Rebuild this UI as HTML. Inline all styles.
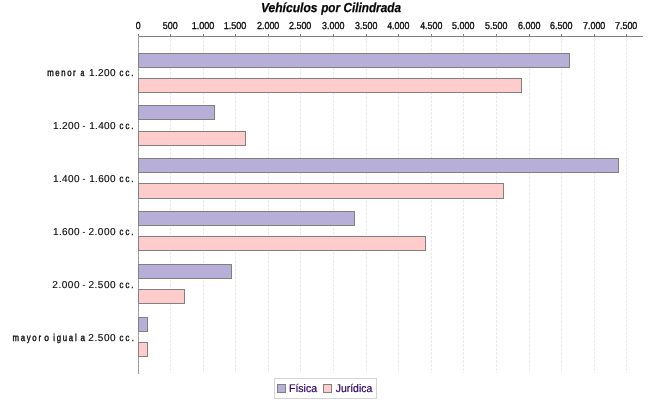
<!DOCTYPE html>
<html><head><meta charset="utf-8"><style>
html,body{margin:0;padding:0;background:#fff;width:650px;height:400px;overflow:hidden}
svg{display:block;font-family:"Liberation Sans",sans-serif}
text{text-rendering:geometricPrecision}
svg{will-change:transform}
</style></head><body>
<svg width="650" height="400" viewBox="0 0 650 400">
<rect x="0" y="0" width="650" height="400" fill="#fff"/>
<line x1="170.5" y1="36.5" x2="170.5" y2="373" stroke="#E2E2E2" stroke-width="1" stroke-dasharray="2,2"/>
<line x1="203.5" y1="36.5" x2="203.5" y2="373" stroke="#E2E2E2" stroke-width="1" stroke-dasharray="2,2"/>
<line x1="235.5" y1="36.5" x2="235.5" y2="373" stroke="#E2E2E2" stroke-width="1" stroke-dasharray="2,2"/>
<line x1="268.5" y1="36.5" x2="268.5" y2="373" stroke="#E2E2E2" stroke-width="1" stroke-dasharray="2,2"/>
<line x1="300.5" y1="36.5" x2="300.5" y2="373" stroke="#E2E2E2" stroke-width="1" stroke-dasharray="2,2"/>
<line x1="333.5" y1="36.5" x2="333.5" y2="373" stroke="#E2E2E2" stroke-width="1" stroke-dasharray="2,2"/>
<line x1="366.5" y1="36.5" x2="366.5" y2="373" stroke="#E2E2E2" stroke-width="1" stroke-dasharray="2,2"/>
<line x1="398.5" y1="36.5" x2="398.5" y2="373" stroke="#E2E2E2" stroke-width="1" stroke-dasharray="2,2"/>
<line x1="431.5" y1="36.5" x2="431.5" y2="373" stroke="#E2E2E2" stroke-width="1" stroke-dasharray="2,2"/>
<line x1="463.5" y1="36.5" x2="463.5" y2="373" stroke="#E2E2E2" stroke-width="1" stroke-dasharray="2,2"/>
<line x1="496.5" y1="36.5" x2="496.5" y2="373" stroke="#E2E2E2" stroke-width="1" stroke-dasharray="2,2"/>
<line x1="529.5" y1="36.5" x2="529.5" y2="373" stroke="#E2E2E2" stroke-width="1" stroke-dasharray="2,2"/>
<line x1="561.5" y1="36.5" x2="561.5" y2="373" stroke="#E2E2E2" stroke-width="1" stroke-dasharray="2,2"/>
<line x1="594.5" y1="36.5" x2="594.5" y2="373" stroke="#E2E2E2" stroke-width="1" stroke-dasharray="2,2"/>
<line x1="626.5" y1="36.5" x2="626.5" y2="373" stroke="#E2E2E2" stroke-width="1" stroke-dasharray="2,2"/>
<line x1="138" y1="36.5" x2="643" y2="36.5" stroke="#808080" stroke-width="1"/>
<line x1="138.5" y1="34" x2="138.5" y2="36" stroke="#808080" stroke-width="1"/>
<line x1="170.5" y1="34" x2="170.5" y2="36" stroke="#808080" stroke-width="1"/>
<line x1="203.5" y1="34" x2="203.5" y2="36" stroke="#808080" stroke-width="1"/>
<line x1="235.5" y1="34" x2="235.5" y2="36" stroke="#808080" stroke-width="1"/>
<line x1="268.5" y1="34" x2="268.5" y2="36" stroke="#808080" stroke-width="1"/>
<line x1="300.5" y1="34" x2="300.5" y2="36" stroke="#808080" stroke-width="1"/>
<line x1="333.5" y1="34" x2="333.5" y2="36" stroke="#808080" stroke-width="1"/>
<line x1="366.5" y1="34" x2="366.5" y2="36" stroke="#808080" stroke-width="1"/>
<line x1="398.5" y1="34" x2="398.5" y2="36" stroke="#808080" stroke-width="1"/>
<line x1="431.5" y1="34" x2="431.5" y2="36" stroke="#808080" stroke-width="1"/>
<line x1="463.5" y1="34" x2="463.5" y2="36" stroke="#808080" stroke-width="1"/>
<line x1="496.5" y1="34" x2="496.5" y2="36" stroke="#808080" stroke-width="1"/>
<line x1="529.5" y1="34" x2="529.5" y2="36" stroke="#808080" stroke-width="1"/>
<line x1="561.5" y1="34" x2="561.5" y2="36" stroke="#808080" stroke-width="1"/>
<line x1="594.5" y1="34" x2="594.5" y2="36" stroke="#808080" stroke-width="1"/>
<line x1="626.5" y1="34" x2="626.5" y2="36" stroke="#808080" stroke-width="1"/>
<line x1="138.5" y1="36" x2="138.5" y2="374" stroke="#AAAAAA" stroke-width="1"/>
<line x1="138.5" y1="37" x2="138.5" y2="374" stroke="#939393" stroke-width="1" stroke-dasharray="2,2"/>
<rect x="138.5" y="53.5" width="431" height="14" fill="#B8AFD8" stroke="#808080" stroke-width="1"/>
<rect x="138.5" y="78.5" width="383" height="14" fill="#FFCCCC" stroke="#808080" stroke-width="1"/>
<rect x="138.5" y="105.5" width="76" height="14" fill="#B8AFD8" stroke="#808080" stroke-width="1"/>
<rect x="138.5" y="131.5" width="107" height="14" fill="#FFCCCC" stroke="#808080" stroke-width="1"/>
<rect x="138.5" y="158.5" width="480" height="14" fill="#B8AFD8" stroke="#808080" stroke-width="1"/>
<rect x="138.5" y="183.5" width="365" height="15" fill="#FFCCCC" stroke="#808080" stroke-width="1"/>
<rect x="138.5" y="211.5" width="216" height="14" fill="#B8AFD8" stroke="#808080" stroke-width="1"/>
<rect x="138.5" y="236.5" width="287" height="14" fill="#FFCCCC" stroke="#808080" stroke-width="1"/>
<rect x="138.5" y="264.5" width="93" height="14" fill="#B8AFD8" stroke="#808080" stroke-width="1"/>
<rect x="138.5" y="289.5" width="46" height="14" fill="#FFCCCC" stroke="#808080" stroke-width="1"/>
<rect x="138.5" y="317.5" width="9" height="14" fill="#B8AFD8" stroke="#808080" stroke-width="1"/>
<rect x="138.5" y="342.5" width="9" height="14" fill="#FFCCCC" stroke="#808080" stroke-width="1"/>
<text transform="translate(135.76,29) scale(0.8786,1)" font-size="10" stroke="#000" stroke-width="0.3">0</text>
<text transform="translate(162.74,29) scale(0.8934,1)" font-size="10" stroke="#000" stroke-width="0.3">500</text>
<text transform="translate(191.71,29) scale(0.9048,1)" font-size="10" stroke="#000" stroke-width="0.3">1.000</text>
<text transform="translate(223.71,29) scale(0.9048,1)" font-size="10" stroke="#000" stroke-width="0.3">1.500</text>
<text transform="translate(256.95,29) scale(0.8951,1)" font-size="10" stroke="#000" stroke-width="0.3">2.000</text>
<text transform="translate(288.95,29) scale(0.8951,1)" font-size="10" stroke="#000" stroke-width="0.3">2.500</text>
<text transform="translate(322.06,29) scale(0.8906,1)" font-size="10" stroke="#000" stroke-width="0.3">3.000</text>
<text transform="translate(355.06,29) scale(0.8906,1)" font-size="10" stroke="#000" stroke-width="0.3">3.500</text>
<text transform="translate(387.20,29) scale(0.8851,1)" font-size="10" stroke="#000" stroke-width="0.3">4.000</text>
<text transform="translate(420.20,29) scale(0.8851,1)" font-size="10" stroke="#000" stroke-width="0.3">4.500</text>
<text transform="translate(452.04,29) scale(0.8913,1)" font-size="10" stroke="#000" stroke-width="0.3">5.000</text>
<text transform="translate(485.04,29) scale(0.8913,1)" font-size="10" stroke="#000" stroke-width="0.3">5.500</text>
<text transform="translate(517.95,29) scale(0.8953,1)" font-size="10" stroke="#000" stroke-width="0.3">6.000</text>
<text transform="translate(549.95,29) scale(0.8953,1)" font-size="10" stroke="#000" stroke-width="0.3">6.500</text>
<text transform="translate(582.94,29) scale(0.8955,1)" font-size="10" stroke="#000" stroke-width="0.3">7.000</text>
<text transform="translate(614.94,29) scale(0.8955,1)" font-size="10" stroke="#000" stroke-width="0.3">7.500</text>
<text transform="translate(47.28,76) scale(0.7800,1)" font-size="10" letter-spacing="2.000" stroke="#000" stroke-width="0.35">menor</text>
<text transform="translate(80.61,76) scale(0.6814,1)" font-size="10" stroke="#000" stroke-width="0.35">a</text>
<text transform="translate(89.04,76) scale(1.0000,1)" font-size="10" letter-spacing="0.357" stroke="#000" stroke-width="0.12">1.200</text>
<text transform="translate(119.47,76) scale(0.7800,1)" font-size="10" letter-spacing="2.613" stroke="#000" stroke-width="0.35">cc.</text>
<text transform="translate(53.04,129) scale(1.0000,1)" font-size="10" letter-spacing="0.357" stroke="#000" stroke-width="0.12">1.200</text>
<text transform="translate(82.52,129) scale(0.8602,1)" font-size="10" stroke="#000" stroke-width="0.12">-</text>
<text transform="translate(89.24,129) scale(1.0000,1)" font-size="10" letter-spacing="0.307" stroke="#000" stroke-width="0.12">1.400</text>
<text transform="translate(119.47,129) scale(0.7800,1)" font-size="10" letter-spacing="2.613" stroke="#000" stroke-width="0.35">cc.</text>
<text transform="translate(53.04,182) scale(1.0000,1)" font-size="10" letter-spacing="0.357" stroke="#000" stroke-width="0.12">1.400</text>
<text transform="translate(82.52,182) scale(0.8602,1)" font-size="10" stroke="#000" stroke-width="0.12">-</text>
<text transform="translate(89.24,182) scale(1.0000,1)" font-size="10" letter-spacing="0.307" stroke="#000" stroke-width="0.12">1.600</text>
<text transform="translate(119.47,182) scale(0.7800,1)" font-size="10" letter-spacing="2.613" stroke="#000" stroke-width="0.35">cc.</text>
<text transform="translate(53.04,235) scale(1.0000,1)" font-size="10" letter-spacing="0.357" stroke="#000" stroke-width="0.12">1.600</text>
<text transform="translate(82.52,235) scale(0.8602,1)" font-size="10" stroke="#000" stroke-width="0.12">-</text>
<text transform="translate(88.50,235) scale(1.0000,1)" font-size="10" letter-spacing="0.492" stroke="#000" stroke-width="0.12">2.000</text>
<text transform="translate(119.47,235) scale(0.7800,1)" font-size="10" letter-spacing="2.613" stroke="#000" stroke-width="0.35">cc.</text>
<text transform="translate(52.30,288) scale(1.0000,1)" font-size="10" letter-spacing="0.542" stroke="#000" stroke-width="0.12">2.000</text>
<text transform="translate(82.52,288) scale(0.8602,1)" font-size="10" stroke="#000" stroke-width="0.12">-</text>
<text transform="translate(88.50,288) scale(1.0000,1)" font-size="10" letter-spacing="0.492" stroke="#000" stroke-width="0.12">2.500</text>
<text transform="translate(119.47,288) scale(0.7800,1)" font-size="10" letter-spacing="2.613" stroke="#000" stroke-width="0.35">cc.</text>
<text transform="translate(12.48,341) scale(0.7800,1)" font-size="10" letter-spacing="2.204" stroke="#000" stroke-width="0.35">mayor</text>
<text transform="translate(44.24,341) scale(0.8472,1)" font-size="10" stroke="#000" stroke-width="0.35">o</text>
<text transform="translate(53.18,341) scale(0.7800,1)" font-size="10" letter-spacing="2.232" stroke="#000" stroke-width="0.35">igual</text>
<text transform="translate(80.55,341) scale(0.8176,1)" font-size="10" stroke="#000" stroke-width="0.35">a</text>
<text transform="translate(88.30,341) scale(1.0000,1)" font-size="10" letter-spacing="0.567" stroke="#000" stroke-width="0.12">2.500</text>
<text transform="translate(119.47,341) scale(0.7800,1)" font-size="10" letter-spacing="2.870" stroke="#000" stroke-width="0.35">cc.</text>
<text transform="translate(260.89,12) scale(0.9286,1)" font-size="13" font-weight="bold" font-style="italic" stroke="#000" stroke-width="0.25">Vehículos</text>
<text transform="translate(321.16,12) scale(0.8984,1)" font-size="13" font-weight="bold" font-style="italic" stroke="#000" stroke-width="0.25">por</text>
<text transform="translate(343.43,12) scale(0.9049,1)" font-size="13" font-weight="bold" font-style="italic" stroke="#000" stroke-width="0.25">Cilindrada</text>
<rect x="274.5" y="378.5" width="102" height="20" fill="#fff" stroke="#D4D4D4" stroke-width="1"/>
<rect x="277.5" y="384.5" width="8" height="8" fill="#B8AFD8" stroke="#808080" stroke-width="1"/>
<rect x="323.5" y="384.5" width="8" height="8" fill="#FFCCCC" stroke="#808080" stroke-width="1"/>
<text transform="translate(288.93,392) scale(0.9601,1)" font-size="11" fill="#2C0068" stroke="#2C0068" stroke-width="0.2">Física</text>
<text transform="translate(335.74,392) scale(0.9467,1)" font-size="11" fill="#2C0068" stroke="#2C0068" stroke-width="0.2">Jurídica</text>
</svg>
</body></html>
